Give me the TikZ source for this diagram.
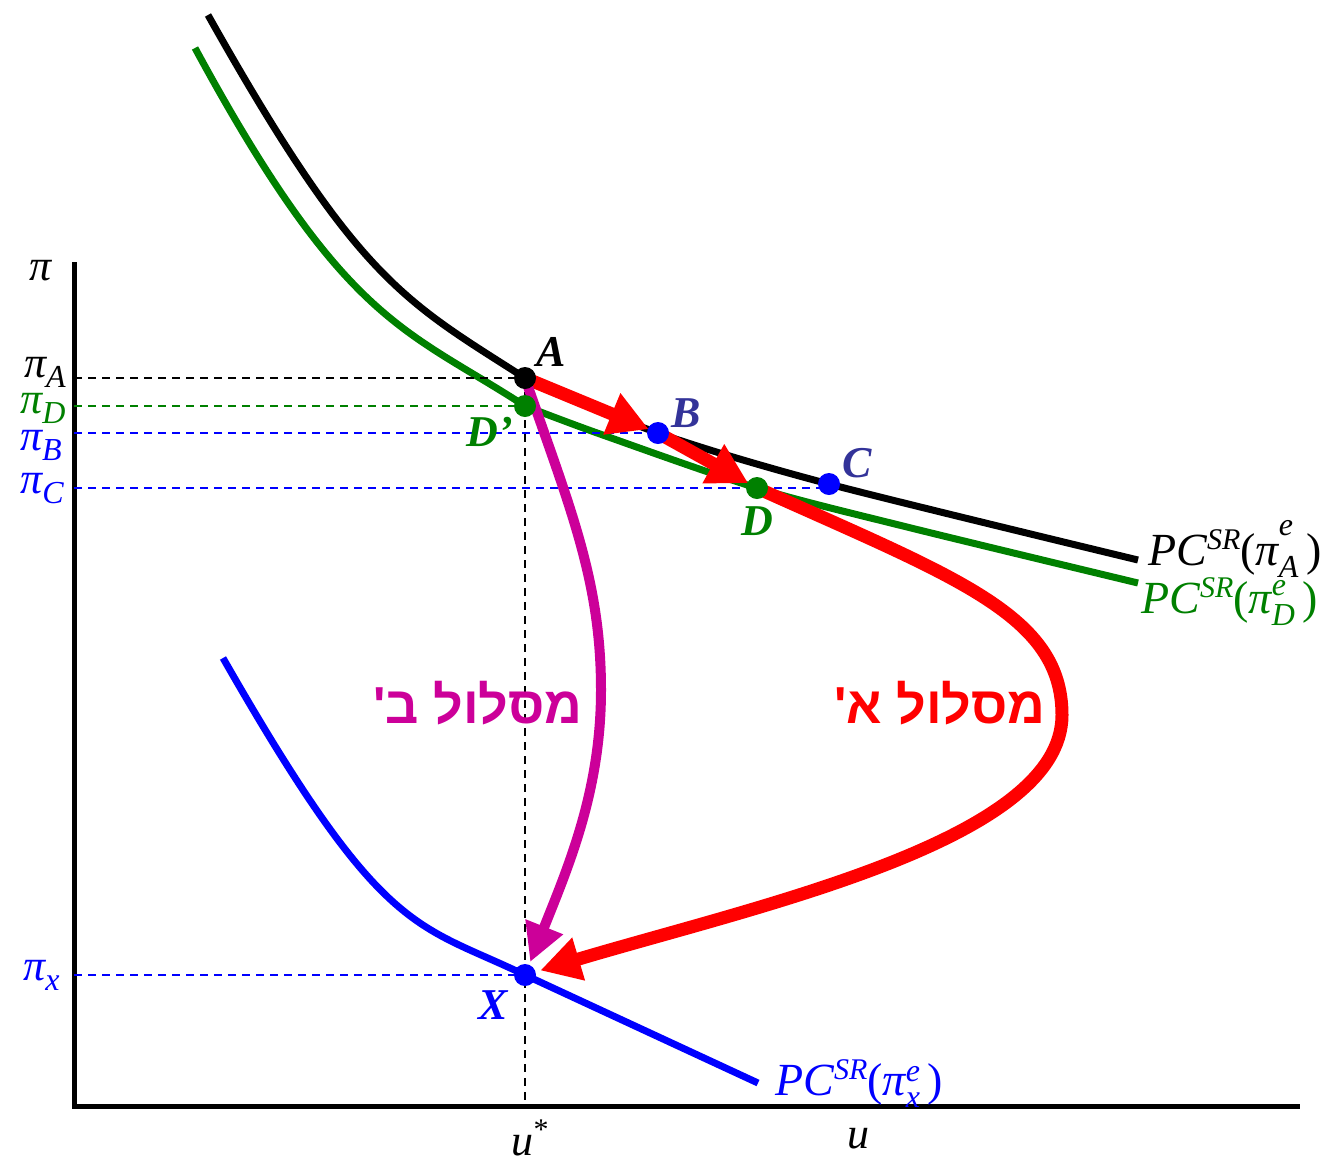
\documentclass[tikz,border=0pt]{standalone}
\usepackage{fontspec}
\setmainfont{Liberation Serif}
\newfontfamily\hebfont[Script=Hebrew]{Liberation Sans}
\TeXXeTstate=1
\usepackage{xcolor}
\usepackage{tikz}
\usetikzlibrary{arrows.meta, calc}
\definecolor{mygreen}{RGB}{0, 128, 0}
\definecolor{mymag}{RGB}{204, 0, 153}
\definecolor{myblue}{RGB}{0, 0, 255}
\definecolor{mynavy}{RGB}{51, 51, 153}
% small scripts for the labels
\newcommand{\sbs}[1]{\raisebox{-5pt}{\fontsize{16}{16}\selectfont #1}}
\newcommand{\sps}[1]{\raisebox{8pt}{\fontsize{15}{15}\selectfont #1}}
\newcommand{\sbsp}[3]{{\fontsize{16}{16}\selectfont
    \setbox0\hbox{#2}\setbox2\hbox{#3}%
    \ifdim\wd0>\wd2 \dimen0=\wd0 \else \dimen0=\wd2 \fi
    \rlap{\raise #1\box0}\rlap{\lower 6pt\box2}\hspace*{\dimen0}}}
\newcommand{\pclabel}[2][12pt]{PC\sps{SR}{\upshape(}π\sbsp{#1}{e}{#2}\,{\upshape)}}

\begin{document}
\begin{tikzpicture}[x=0.5pt, y=-0.5pt,
    pccurve/.style={line width=3.5pt},
    guide/.style={dashed, line width=1pt, dash pattern=on 4pt off 3pt},
    dot/.style={circle, fill, inner sep=0pt, minimum size=11pt},
    ptlabel/.style={font=\fontsize{22}{26}\selectfont\bfseries\itshape},
    axlabel/.style={font=\fontsize{22}{26}\selectfont\itshape, inner sep=0pt},
    pcname/.style={font=\fontsize{23}{27}\selectfont\itshape, inner sep=0pt, anchor=base west},
    hebrew/.style={font=\fontsize{26}{30}\selectfont\hebfont\bfseries},
    route/.style={line width=6.5pt, -{Triangle[length=20pt, width=21pt]}}]
    \useasboundingbox (0,0) rectangle (1338,1168);

    % Points
    \coordinate (O) at (74,1106);
    \coordinate (A) at (525,378);
    \coordinate (Dp) at (525,406);
    \coordinate (B) at (658,433);
    \coordinate (D) at (757,488);
    \coordinate (C) at (829,484);
    \coordinate (X) at (525,975);

    % Draw Curves
    \draw[pccurve, black] (208,15) .. controls (358,282) and (405,301) .. (A)
        -- plot[smooth] coordinates {(A) (B) (C) (1138,560)};
    \draw[pccurve, mygreen] (195,48) .. controls (345,325) and (405,328) .. (Dp)
        -- plot[smooth] coordinates {(Dp) (600,434) (D) (907,527) (1138,583)};
    \draw[pccurve, myblue] (223,658) .. controls (383,938) and (415,922) .. (X) -- (758,1083);

    % Draw Axes
    \draw[line width=2.5pt] (74,262) -- (O) -- (1300,1106);

    % Guide lines
    \draw[guide, black] (O |- A) -- (A);
    \draw[guide, mygreen] (O |- Dp) -- (Dp);
    \draw[guide, myblue] (O |- B) -- (B);
    \draw[guide, myblue] (O |- D) -- (C |- D);
    \draw[guide, myblue] (O |- X) -- (X);
    \draw[guide, black] (A) -- (A |- O);

    % Route A (red)
    \draw[route, red, shorten >=5pt] (A) -- (B);
    \draw[route, red, shorten >=5pt] (B) -- (D);
    \draw[route, red, shorten >=8pt] (D) .. controls (957,578) and (1062,615) .. (1062,715)
        .. controls (1062,840) and (760,905) .. (X);

    % Route B (magenta)
    \draw[line width=5pt, mymag, -{Triangle[length=19pt, width=19pt]}, shorten >=7pt]
        (A) .. controls (570,508) and (601,580) .. (601,690)
        .. controls (601,790) and (569,865) .. (X);

    % Mark the points
    \node[dot, black] (pA) at (A) {};
    \node[dot, mygreen] (pDp) at (Dp) {};
    \node[dot, myblue] (pB) at (B) {};
    \node[dot, mygreen] (pD) at (D) {};
    \node[dot, myblue] (pC) at (C) {};
    \node[dot, myblue] (pX) at (X) {};

    \node[ptlabel, black] (lA) at (551,352) {A};
    \node[ptlabel, mynavy] (lB) at (686,413) {B};
    \node[ptlabel, mynavy] (lC) at (857,463) {C};
    \node[ptlabel, mygreen] (lDp) at (490,432) {D'};
    \node[ptlabel, mygreen] (lD) at (757,521) {D};
    \node[ptlabel, myblue] (lX) at (493,1005) {X};

    % Axis labels
    \node[axlabel, anchor=base east] (lpi) at (52,280) {π};
    \node[axlabel, anchor=base east, black] (lpA) at (66,377) {π\sbs{A}};
    \node[axlabel, anchor=base east, mygreen] (lpD) at (66,413) {π\sbs{D}};
    \node[axlabel, anchor=base east, myblue] (lpB) at (62,450) {π\sbs{B}};
    \node[axlabel, anchor=base east, myblue] (lpC) at (64,493) {π\sbs{C}};
    \node[axlabel, anchor=base east, myblue] (lpX) at (60,980) {π\sbs{x}};
    \node[axlabel, anchor=base] (lus) at (530,1155) {u\sps{\upshape *}};
    \node[axlabel, anchor=base] (lu) at (858,1148) {u};

    % Curve labels
    \node[pcname, black] (lcA) at (1148,565) {\pclabel[15pt]{A}};
    \node[pcname, mygreen] (lcD) at (1141,613) {\pclabel[9pt]{D}};
    \node[pcname, myblue] (lcX) at (775,1095) {\pclabel[7pt]{x}};

    % Route names
    \node[hebrew, text=mymag] (nB) at (478,703) {\beginR מסלול ב'\endR};
    \node[hebrew, text=red] (nA) at (940,703) {\beginR מסלול א'\endR};
\end{tikzpicture}
\end{document}
